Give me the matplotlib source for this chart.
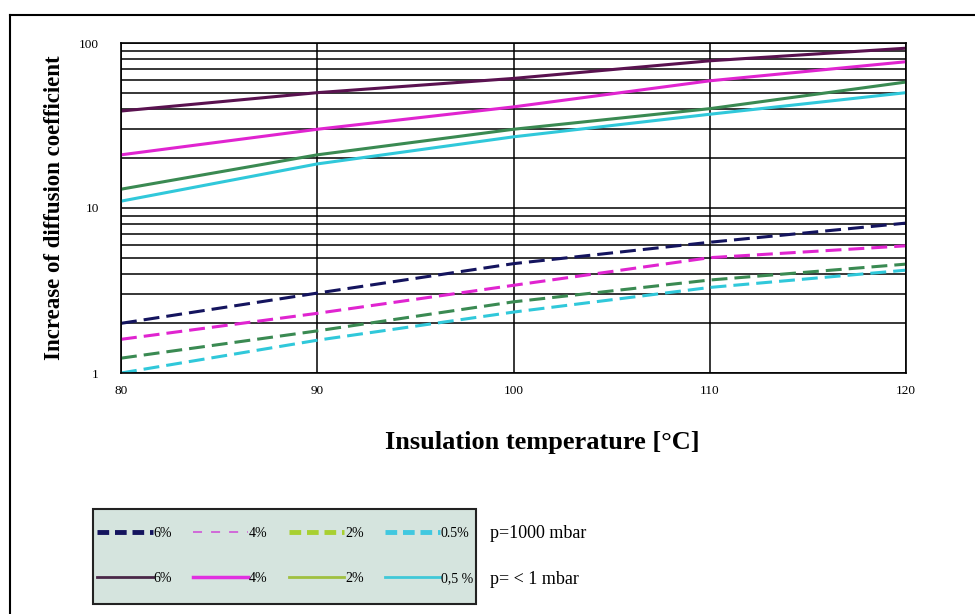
import matplotlib.pyplot as plt
from matplotlib.lines import Line2D
from matplotlib.patches import Rectangle

# Data
temps = [80, 90, 100, 110, 120]

# p = 1000 mbar (dashed)
d_6 = [2.0, 3.05, 4.6, 6.2, 8.1]
d_4 = [1.6, 2.3, 3.4, 5.0, 5.9]
d_2 = [1.23, 1.8, 2.7, 3.66, 4.57]
d_05 = [1.0, 1.58, 2.34, 3.3, 4.2]

# p = < 1 mbar (solid)
s_6 = [38.7, 50, 61, 78, 93]
s_4 = [21, 30, 41, 59, 77]
s_2 = [13, 21, 30, 40, 58]
s_05 = [11, 18.5, 27, 37, 50]

legend_labels_top = ['6%', '4%', '2%', '0.5%']
legend_labels_bot = ['6%', '4%', '2%', '0,5 %']

plt.rcParams['font.family'] = ['Liberation Serif', 'DejaVu Serif']

W, H = 975, 614
fig = plt.figure(figsize=(9.75, 6.14), dpi=100)
ax = fig.add_axes([121 / W, 1 - 373 / H, 785 / W, 330 / H])

# outer frame (top and left edges visible)
fig.add_artist(Line2D([10 / W, 1], [1 - 15 / H, 1 - 15 / H], color='black', lw=1.5))
fig.add_artist(Line2D([10 / W, 10 / W], [0, 1 - 15 / H], color='black', lw=1.5))

dash = (5.2, 2.3)
lw = 2.2
c_navy = '#14145e'
c_plum = '#5a1250'
c_mag = '#e024d0'
c_green = '#3a8a52'
c_cyan = '#30c8da'

ax.plot(temps, s_6, color=c_plum, lw=lw)
ax.plot(temps, s_4, color=c_mag, lw=lw)
ax.plot(temps, s_2, color=c_green, lw=lw)
ax.plot(temps, s_05, color=c_cyan, lw=lw)
ax.plot(temps, d_6, color=c_navy, lw=lw, dashes=dash)
ax.plot(temps, d_4, color=c_mag, lw=lw, dashes=dash)
ax.plot(temps, d_2, color=c_green, lw=lw, dashes=dash)
ax.plot(temps, d_05, color=c_cyan, lw=lw, dashes=dash)

ax.set_yscale('log')
ax.set_xlim(80, 120)
ax.set_ylim(1, 100)
ax.set_xticks([80, 90, 100, 110, 120])
ax.set_xticklabels(['80', '90', '100', '110', '120'])
ax.set_yticks([1, 10, 100])
ax.set_yticklabels(['1', '10', '100'])
ax.yaxis.set_minor_formatter(plt.NullFormatter())
ax.tick_params(which='both', length=0, labelsize=9.5, pad=9)
ax.tick_params(axis='y', pad=16)
ax.grid(True, which='both', axis='y', color='black', lw=1.1)
ax.grid(True, which='major', axis='x', color='black', lw=1.1)
for sp in ax.spines.values():
    sp.set_color('black')
    sp.set_linewidth(1.2)

ax.set_ylabel('Increase of diffusion coefficient', fontsize=16.5, fontweight='bold', labelpad=10)
fig.text(542 / W, 1 - 443 / H, 'Insulation temperature [°C]', fontsize=19,
         fontweight='bold', ha='center', va='center')

# legend box
fig.add_artist(Rectangle((93 / W, 1 - 604 / H), 383 / W, 95 / H, transform=fig.transFigure,
                         facecolor='#d5e4de', edgecolor='#222222', lw=1.5, zorder=1))

h_top = [
    Line2D([], [], color=c_navy, lw=3.5, dashes=(2.4, 1.2)),
    Line2D([], [], color='#d060d8', lw=1.3, dashes=(5, 5)),
    Line2D([], [], color='#a8d030', lw=3.5, dashes=(2.4, 1.2)),
    Line2D([], [], color='#40c8e0', lw=3.5, dashes=(2.4, 1.2)),
]
h_bot = [
    Line2D([], [], color='#4a2848', lw=2),
    Line2D([], [], color='#e030e0', lw=2.5),
    Line2D([], [], color='#a0c040', lw=2),
    Line2D([], [], color='#40c8d8', lw=2),
]
handles = []
labels = []
for i in range(4):
    handles += [h_top[i], h_bot[i]]
    labels += [legend_labels_top[i], legend_labels_bot[i]]

leg = fig.legend(handles, labels, ncol=4, loc='center left',
                 bbox_to_anchor=(97 / W, 1 - 556 / H, 376 / W, 0),
                 mode='expand', fontsize=10, handlelength=4.0, handletextpad=0.05,
                 labelspacing=2.3, borderaxespad=0, borderpad=0, frameon=False)
leg.set_zorder(2)

fig.text(490 / W, 1 - 533 / H, 'p=1000 mbar', fontsize=13, va='center')
fig.text(490 / W, 1 - 579 / H, 'p= < 1 mbar', fontsize=13, va='center')

fig.savefig('out.png', dpi=100)
